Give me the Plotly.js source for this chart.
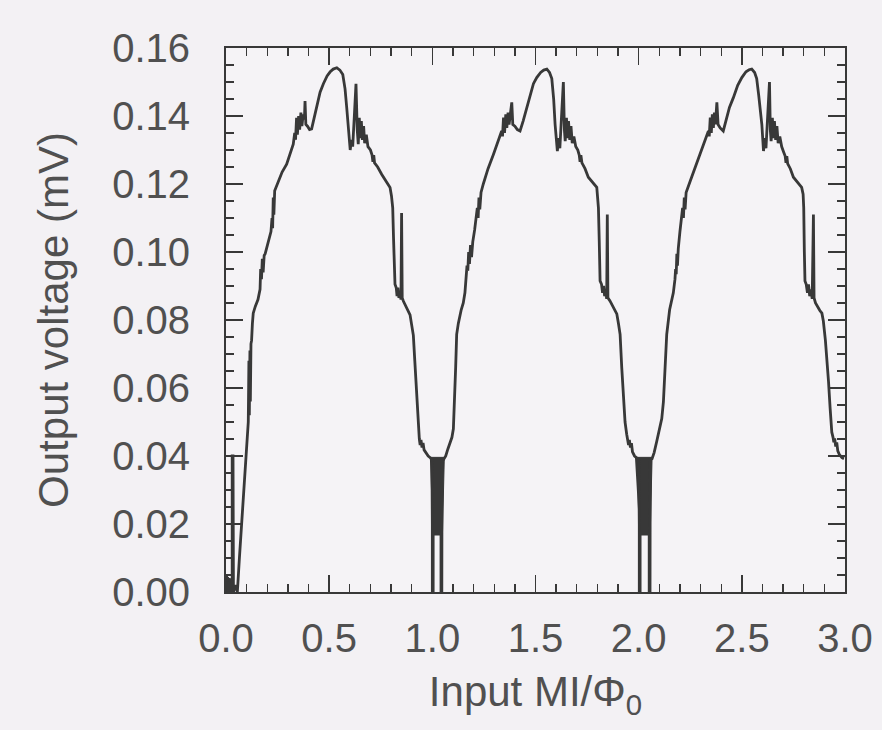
<!DOCTYPE html>
<html>
<head>
<meta charset="utf-8">
<script src="https://cdn.plot.ly/plotly-3.0.1.min.js"></script>
<style>html,body{margin:0;padding:0;background:#f3f1f4;}#chart{width:882px;height:730px;}</style>
</head>
<body>
<div id="chart"></div>
<script>
// Input MI/Phi0 (x) and output voltage in mV (y)
var inputFlux = [
0.000,0.010,0.020,0.025,0.030,0.030,0.034,0.036,0.045,0.055,0.065,0.080,0.095,0.106,
0.108,0.111,0.113,0.116,0.118,0.121,0.124,0.128,0.132,0.142,0.155,0.165,
0.168,0.172,0.176,0.180,0.185,0.190,0.205,0.218,
0.223,0.226,0.229,0.232,0.236,0.245,0.254,0.272,0.294,0.312,0.326,
0.333,0.337,0.342,0.346,0.352,0.357,0.363,0.368,0.374,0.380,0.383,0.387,0.395,0.405,0.415,0.428,0.440,0.456,0.472,0.490,0.505,0.520,0.537,0.552,0.566,0.577,0.585,0.595,0.602,
0.608,0.614,0.622,0.630,0.636,0.641,0.646,0.651,0.656,0.661,0.667,0.672,0.680,0.688,0.700,0.708,0.712,0.716,0.720,0.735,0.755,0.775,0.795,0.802,0.808,0.812,0.815,0.819,
0.825,0.829,0.833,0.838,0.843,0.848,0.851,0.854,0.860,0.875,0.892,0.900,0.908,0.915,0.921,0.927,0.932,
0.937,0.941,0.945,0.950,0.955,0.960,0.968,0.980,0.990,0.998,1.000,1.000,1.004,1.004,1.042,1.042,1.046,1.047,
1.055,1.065,1.075,1.085,1.095,1.102,1.108,1.113,1.118,1.126,1.140,1.150,1.158,1.165,
1.168,1.172,1.176,1.180,1.185,1.190,1.196,1.205,1.212,
1.218,1.222,1.226,1.230,1.236,1.247,1.270,1.296,1.316,1.336,
1.340,1.345,1.350,1.356,1.361,1.367,1.372,1.378,1.385,1.390,1.400,1.412,1.425,1.440,1.458,1.472,1.490,1.506,1.525,1.540,1.555,1.568,1.579,1.588,1.595,1.606,
1.612,1.618,1.626,1.635,1.640,1.644,1.650,1.655,1.660,1.666,1.672,1.678,1.686,1.695,1.705,1.712,1.716,1.720,1.725,1.740,1.756,1.775,1.797,1.801,1.805,1.809,1.813,
1.820,1.825,1.830,1.835,1.840,1.845,1.848,1.851,1.861,1.878,1.894,1.902,1.910,1.918,1.926,1.934,1.942,
1.947,1.951,1.955,1.960,1.965,1.970,1.980,1.990,2.000,2.003,2.003,2.007,2.007,2.051,2.051,2.055,2.056,
2.065,2.075,2.088,2.100,2.112,2.120,2.128,2.136,2.150,2.160,2.168,2.176,
2.179,2.182,2.185,2.188,2.192,2.200,2.210,
2.213,2.217,2.221,2.225,2.230,2.250,2.275,2.298,2.320,2.338,
2.342,2.347,2.352,2.357,2.362,2.367,2.372,2.376,2.379,2.385,2.395,2.410,2.425,2.440,2.459,2.480,2.500,2.520,2.535,2.548,2.562,2.572,2.582,2.597,2.605,
2.611,2.617,2.625,2.634,2.638,2.642,2.648,2.653,2.658,2.664,2.670,2.676,2.684,2.693,2.702,2.710,2.714,2.718,2.722,2.735,2.750,2.770,2.790,2.797,2.800,2.803,2.806,
2.812,2.818,2.823,2.829,2.835,2.841,2.847,2.850,2.857,2.865,2.878,2.888,2.895,2.905,2.913,2.920,2.928,2.936,
2.942,2.946,2.950,2.955,2.960,2.965,2.972,2.985,2.995
];
var outputVoltage = [
0.0030,0.0000,0.0040,0.0000,0.0000,0.0400,0.0400,0.0000,0.0020,0.0000,0.0100,0.0240,0.0370,0.0470,
0.0500,0.0680,0.0520,0.0710,0.0560,0.0730,0.0740,0.0790,0.0820,0.0840,0.0860,0.0890,
0.0950,0.0920,0.0980,0.0940,0.0990,0.0995,0.1030,0.1060,
0.1100,0.1070,0.1160,0.1110,0.1180,0.1195,0.1210,0.1235,0.1258,0.1290,0.1317,
0.1350,0.1330,0.1395,0.1345,0.1400,0.1360,0.1410,0.1370,0.1405,0.1390,0.1444,0.1375,0.1370,0.1360,0.1362,0.1395,0.1425,0.1470,0.1495,0.1518,0.1530,0.1538,0.1542,0.1535,0.1522,0.1480,0.1425,0.1350,0.1300,
0.1330,0.1310,0.1400,0.1495,0.1360,0.1317,0.1395,0.1335,0.1385,0.1330,0.1370,0.1320,0.1345,0.1310,0.1300,0.1285,0.1265,0.1285,0.1262,0.1250,0.1228,0.1210,0.1190,0.1165,0.1130,0.1040,0.0960,0.0905,
0.0895,0.0870,0.0895,0.0865,0.0880,0.0860,0.1115,0.0865,0.0855,0.0835,0.0815,0.0785,0.0755,0.0680,0.0610,0.0530,0.0468,
0.0450,0.0432,0.0447,0.0425,0.0438,0.0418,0.0410,0.0400,0.0395,0.0390,0.0200,0.0000,0.0000,0.0170,0.0170,0.0000,0.0000,0.0390,
0.0390,0.0400,0.0420,0.0435,0.0455,0.0480,0.0560,0.0660,0.0758,0.0790,0.0830,0.0850,0.0880,0.0940,
0.0960,0.0945,0.1000,0.0965,0.1020,0.0985,0.1030,0.1065,0.1100,
0.1130,0.1100,0.1160,0.1125,0.1175,0.1200,0.1245,0.1287,0.1320,0.1356,
0.1340,0.1395,0.1350,0.1405,0.1365,0.1410,0.1375,0.1400,0.1440,0.1375,0.1370,0.1360,0.1356,0.1385,0.1425,0.1460,0.1495,0.1513,0.1528,0.1535,0.1538,0.1528,0.1510,0.1450,0.1375,0.1297,
0.1335,0.1305,0.1400,0.1500,0.1360,0.1326,0.1395,0.1335,0.1385,0.1330,0.1370,0.1320,0.1340,0.1310,0.1300,0.1285,0.1265,0.1285,0.1262,0.1245,0.1220,0.1205,0.1190,0.1160,0.1130,0.1030,0.0915,
0.0905,0.0880,0.0900,0.0870,0.0885,0.0862,0.1110,0.0865,0.0856,0.0835,0.0818,0.0790,0.0758,0.0660,0.0560,0.0500,0.0464,
0.0450,0.0432,0.0447,0.0425,0.0438,0.0412,0.0400,0.0395,0.0390,0.0200,0.0000,0.0000,0.0170,0.0170,0.0000,0.0000,0.0390,
0.0392,0.0410,0.0444,0.0480,0.0510,0.0560,0.0660,0.0758,0.0830,0.0856,0.0880,0.0920,
0.0950,0.0935,0.0995,0.0960,0.1010,0.1060,0.1110,
0.1130,0.1100,0.1160,0.1125,0.1175,0.1209,0.1250,0.1287,0.1325,0.1356,
0.1340,0.1395,0.1350,0.1405,0.1365,0.1410,0.1375,0.1400,0.1440,0.1375,0.1365,0.1356,0.1395,0.1425,0.1454,0.1490,0.1513,0.1530,0.1536,0.1538,0.1528,0.1510,0.1460,0.1375,0.1297,
0.1335,0.1305,0.1400,0.1500,0.1360,0.1326,0.1395,0.1335,0.1385,0.1330,0.1370,0.1320,0.1340,0.1310,0.1295,0.1282,0.1262,0.1282,0.1260,0.1245,0.1220,0.1205,0.1190,0.1170,0.1130,0.1000,0.0915,
0.0905,0.0880,0.0905,0.0870,0.0890,0.0862,0.1110,0.0865,0.0850,0.0840,0.0828,0.0820,0.0797,0.0740,0.0680,0.0620,0.0540,0.0470,
0.0455,0.0440,0.0452,0.0428,0.0440,0.0415,0.0405,0.0395,0.0392
];
// dense oscillation bands (drawn solid in the picture), separated by null
var bandFlux = [0.000,0.034,0.034,0.000,null, 0.988,1.058,1.049,1.001,null, 1.982,2.065,2.056,2.004];
var bandVoltage = [0.0050,0.0030,0.0000,0.0000,null, 0.0396,0.0396,0.0170,0.0170,null, 0.0396,0.0396,0.0170,0.0170];

var xTickVals = [0,0.5,1,1.5,2,2.5,3];
var xTickText = ['0.0','0.5','1.0','1.5','2.0','2.5','3.0'];
var yTickVals = [0,0.02,0.04,0.06,0.08,0.10,0.12,0.14,0.16];
var yTickText = ['0.00','0.02','0.04','0.06','0.08','0.10','0.12','0.14','0.16'];

var ink = '#383838';
var textInk = '#505050';
var font = 'Liberation Sans, Arial, Helvetica, sans-serif';

var traces = [
  {x: bandFlux, y: bandVoltage, mode: 'lines', fill: 'toself', fillcolor: ink,
   line: {color: ink, width: 1}, hoverinfo: 'skip', showlegend: false},
  {x: inputFlux, y: outputVoltage, mode: 'lines', line: {color: ink, width: 2.8},
   showlegend: false}
];

var axisCommon = {
  showline: true, linecolor: ink, linewidth: 2, mirror: 'ticks',
  ticks: 'inside', ticklen: 17, tickwidth: 1.6, tickcolor: ink,
  showgrid: false, zeroline: false, fixedrange: true,
  tickfont: {family: font, size: 40, color: textInk}
};

var layout = {
  width: 882, height: 730,
  margin: {l: 226, r: 37, t: 48, b: 138},
  paper_bgcolor: '#f3f1f4', plot_bgcolor: '#f5f3f6',
  font: {family: font, color: textInk},
  xaxis: Object.assign({}, axisCommon, {
    range: [0, 3], tickmode: 'array', tickvals: xTickVals, ticktext: xTickText,
    ticklabelstandoff: 10,
    minor: {dtick: 0.1, ticks: 'inside', ticklen: 8, tickwidth: 1.3, tickcolor: ink, showgrid: false},
    title: {text: 'Input MI/\u03A6<sub>0</sub>', font: {family: font, size: 42, color: textInk}, standoff: 18}
  }),
  yaxis: Object.assign({}, axisCommon, {
    range: [0, 0.16], tickmode: 'array', tickvals: yTickVals, ticktext: yTickText,
    ticklabelstandoff: 26,
    minor: {dtick: 0.005, ticks: 'inside', ticklen: 8, tickwidth: 1.3, tickcolor: ink, showgrid: false},
    title: {text: 'Output voltage (mV)', font: {family: font, size: 42, color: textInk}, standoff: 30}
  })
};

Plotly.newPlot('chart', traces, layout, {displayModeBar: false, staticPlot: true});
</script>
</body>
</html>
